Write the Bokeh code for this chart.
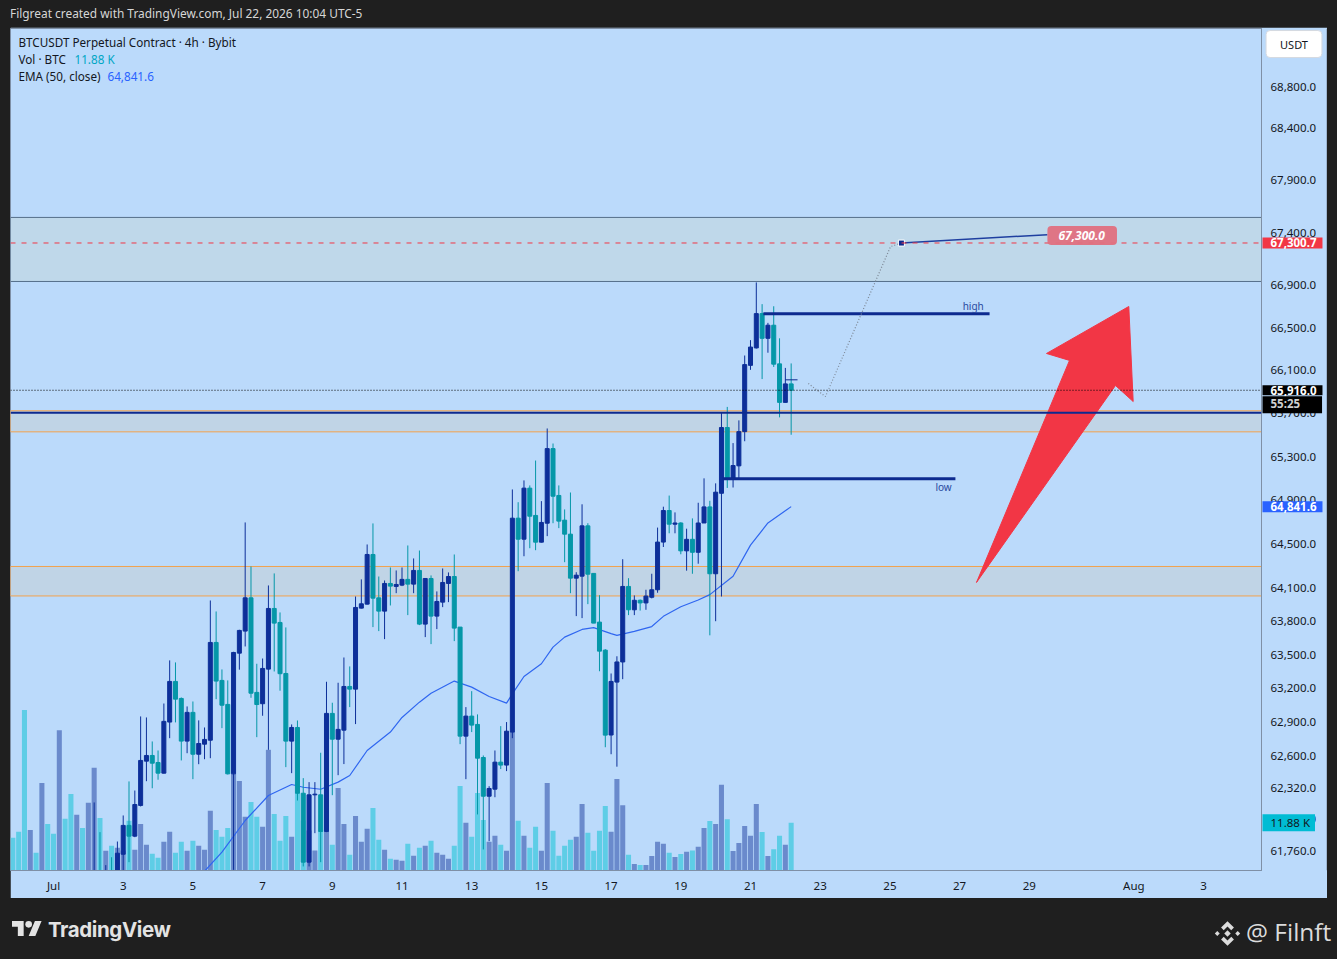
import numpy as np
from bokeh.plotting import figure
from bokeh.models import (Range1d, LinearScale, FixedTicker, NumeralTickFormatter,
                          BoxAnnotation, Span, Label, Div, Spacer, ColumnDataSource)
from bokeh.layouts import column, row
from bokeh.core.properties import value
from bokeh.embed import file_html
from bokeh.resources import INLINE

# ------------------------------------------------------------------ data
symbol_title = "BTCUSDT Perpetual Contract · 4h · Bybit"
# first 4h candle opens Jun 29 20:00 (UTC-5); x axis unit = days after Jul 1 00:00
first_bar_day = -28 / 24
bar_hours = 4

bar_open = [61250, 61050, 60820, 60400, 60690, 60600, 61020, 60850, 60700, 61280, 61090, 60880, 61180, 61050,
            61400, 61520, 61380, 61540, 61450, 61736, 61988, 61894, 62163, 62553,
            62603, 62541, 62447, 62899, 63261, 63109, 62730, 62985, 62614, 62703,
            62738, 63610, 63270, 63056, 62441, 63514, 63712, 64012, 63163, 63062,
            63371, 63916, 63790, 63332, 62730, 62851, 62270, 61667, 62256, 62256,
            61935, 62976, 62747, 62827, 63216, 63192, 63919, 63955, 64405, 64012,
            63892, 64142, 64115, 64127, 64179, 64136, 64260, 63775, 64187, 63847,
            63973, 64142, 64205, 63748, 62774, 62952, 62878, 62585, 62244, 62306,
            62544, 62518, 62810, 64736, 64544, 65011, 64761, 64517, 64690, 65375,
            64944, 64718, 64590, 64190, 64208, 64666, 64233, 63793, 63541, 62784,
            63255, 63435, 64115, 63904, 63990, 63966, 64017, 64085, 64518, 64806,
            64681, 64692, 64438, 64543, 64425, 64692, 64839, 64230, 64964, 65570,
            65103, 65216, 65532, 66148, 66311, 66633, 66401, 66524, 66162, 65803,
            65975]
bar_high = [61420, 61180, 60900, 60780, 60760, 61150, 61100, 60930, 61400, 61380, 61150, 61250, 61260, 61480,
            62189, 61929, 61641, 61710, 61847, 62075, 62374, 62294, 62949, 62940,
            62727, 62647, 63064, 63449, 63431, 63118, 63038, 63082, 62914, 62851,
            63988, 63889, 63368, 63270, 63526, 63724, 64697, 64296, 63419, 63466,
            64124, 64233, 63880, 63745, 62878, 62913, 62403, 62368, 62368, 62627,
            63258, 63071, 63249, 63475, 63395, 64024, 64179, 64496, 64688, 64205,
            64169, 64287, 64260, 64287, 64487, 64369, 64441, 64187, 64215, 64070,
            64278, 64242, 64405, 63748, 63032, 63174, 62967, 62603, 62332, 62647,
            62863, 62899, 64999, 64882, 65082, 65036, 65265, 64892, 65561, 65422,
            65036, 64816, 64971, 64244, 64863, 64690, 64233, 64036, 63550, 63332,
            63486, 64362, 64190, 64034, 63997, 64085, 64230, 64650, 64841, 64943,
            64789, 64699, 64640, 64734, 64877, 65101, 64895, 65055, 65708, 65761,
            65426, 65636, 66240, 66384, 66927, 66722, 66546, 66702, 66401, 66124,
            66166]
bar_low = [60980, 60700, 60150, 60300, 60520, 60450, 60780, 60600, 60550, 61000, 60750, 60820, 60980, 60990,
           61300, 61250, 61300, 61350, 61420, 61588, 61667, 61885, 62154, 62376,
           62314, 62389, 62444, 62756, 62896, 62559, 62623, 62394, 62526, 62570,
           62579, 63103, 62845, 62435, 61600, 63366, 63574, 63115, 62765, 62955,
           62653, 63350, 63178, 62500, 62447, 62206, 61630, 61630, 61920, 61667,
           61929, 62253, 62429, 62527, 63032, 62881, 63916, 63952, 63748, 63712,
           63640, 63943, 64054, 64118, 63856, 64054, 63766, 63658, 63595, 63730,
           63928, 63973, 63622, 62703, 62394, 62810, 62084, 61778, 61850, 62235,
           62483, 62465, 62756, 64253, 64389, 64462, 64444, 64514, 64572, 64690,
           64645, 64335, 64054, 63847, 63829, 63955, 63784, 63352, 62676, 62614,
           62504, 63281, 63856, 63856, 63897, 63904, 64007, 64058, 64473, 64598,
           64598, 64407, 64258, 64230, 64321, 64692, 63674, 63801, 64024, 65013,
           65017, 65103, 65443, 66106, 66305, 66020, 66266, 66133, 65664, 65803,
           65503]
bar_close = [61050, 60820, 60400, 60690, 60600, 61020, 60850, 60700, 61280, 61090, 60880, 61180, 61050, 61400,
             61520, 61380, 61540, 61450, 61745, 61988, 61894, 62171, 62559, 62603,
             62535, 62447, 62905, 63261, 63103, 62730, 62985, 62614, 62709, 62745,
             63610, 63264, 63049, 62441, 63520, 63718, 64012, 63156, 63055, 63377,
             63916, 63784, 63330, 62730, 62851, 62270, 61667, 62256, 62262, 61935,
             62976, 62747, 62834, 63216, 63192, 63925, 63958, 64405, 64009, 63892,
             64142, 64118, 64133, 64179, 64136, 64260, 63775, 64187, 63847, 63979,
             64151, 64205, 63739, 62774, 62952, 62872, 62579, 62244, 62312, 62544,
             62518, 62818, 64736, 64544, 65011, 64754, 64517, 64697, 65375, 64937,
             64709, 64590, 64190, 64217, 64666, 64226, 63784, 63532, 62783, 63261,
             63435, 64115, 63904, 63990, 63966, 64028, 64085, 64518, 64806, 64681,
             64692, 64438, 64543, 64425, 64692, 64839, 64230, 64974, 65570, 65103,
             65219, 65532, 66155, 66319, 66633, 66401, 66524, 66159, 65803, 65975,
             65916]
volume_k = [8.14, 9.64, 40.0, 10.1, 4.41, 21.8, 11.6, 9.14, 35.0, 12.9, 19.1, 13.9, 10.6, 16.9,
            25.6, 13.1, 4.9, 6.15, 5.65, 5.0, 12.4, 5.15, 11.6, 6.4,
            4.16, 3.16, 7.15, 9.64, 4.41, 7.15, 4.9, 7.4, 6.15, 5.15,
            14.9, 10.1, 8.4, 10.6, 24.1, 22.3, 13.4, 17.1, 13.4, 10.9,
            30.1, 14.1, 7.4, 13.6, 8.4, 19.4, 12.5, 10.0, 5.0, 10.0,
            10.0, 6.4, 20.6, 11.6, 3.9, 13.6, 7.15, 10.4, 15.6, 7.64,
            5.15, 2.91, 2.66, 2.42, 6.65, 3.66, 5.65, 6.15, 7.4, 4.41,
            3.91, 2.91, 6.15, 21.1, 11.9, 8.4, 19.3, 12.6, 7.15, 8.64,
            6.4, 4.9, 34.6, 12.4, 8.64, 5.65, 10.9, 4.9, 21.8, 9.9,
            3.66, 6.15, 7.64, 8.4, 16.6, 9.4, 4.9, 9.9, 16.1, 9.64,
            22.8, 16.3, 3.91, 1.64, 1.37, 1.37, 3.64, 7.15, 6.67, 4.41,
            3.36, 4.11, 4.68, 4.96, 5.9, 10.6, 12.35, 11.6, 21.4, 12.8,
            4.86, 6.85, 11.1, 8.67, 16.6, 9.61, 3.64, 5.33, 8.67, 6.4,
            11.88]

# EMA(50, close) at these candle indices
ema_bar = [30, 33, 36, 40, 44, 48, 50, 53, 56, 58, 61, 65, 67, 70, 72, 76, 79, 82, 85, 86,
           88, 91, 93, 95, 98, 100, 103, 104, 107, 110, 112, 115, 118, 120, 124, 127, 130, 134]
ema_value = [61420, 61588, 61755, 62031, 62250, 62347, 62323, 62305, 62368, 62426, 62647, 62810,
             62940, 63076, 63156, 63264, 63210, 63127, 63067, 63150, 63305, 63419, 63568, 63658,
             63727, 63743, 63689, 63674, 63709, 63753, 63845, 63931, 63993, 64041, 64207, 64490,
             64692, 64841.6]

price_ticks = [61760, 62040, 62320, 62600, 62900, 63200, 63500, 63800, 64100, 64500, 64900,
               65300, 65700, 66100, 66500, 66900, 67400, 67900, 68400, 68800]
date_ticks = [0, 2, 4, 6, 8, 10, 12, 14, 16, 18, 20, 22, 24, 26, 28, 31, 33]
date_labels = ["Jul", "3", "5", "7", "9", "11", "13", "15", "17", "19", "21", "23", "25", "27", "29", "Aug", "3"]

last_price = 65916.0
countdown = "55:25"
ema_last = 64841.6
vol_last = 11.88
alert_price = 67300.7

# drawings (x in days after Jul 1, y in USDT)
zone_upper = (66936, 67544)
zone_mid = (65530, 65725)
zone_low = (64029, 64296)
support_level = 65706
high_t, high_level = [20.37, 26.86], 66631
low_t, low_level = [19.2, 25.88], 65097
high_text_at = (26.39, 66709)
low_text_at = (25.54, 65017)
target_t, target_p = [24.33, 28.52], [67300.0, 67380.0]
target_note = "67,300.0"
path_t, path_p = [21.66, 22.15, 24.02, 24.33], [65979, 65857, 67267, 67300]
tick_t, tick_p = [21.0, 21.35], 66013
arrow_t = [26.485, 29.154, 28.494, 30.855, 30.981, 30.473]
arrow_p = [64151, 66194, 66259, 66700, 65811, 65960]

# ------------------------------------------------------------------ styling
BG = "#bbdafb"
DARK = "#1f1f1f"
UP = "#0d2f99"
DOWN = "#0597a8"
VOL_UP = "#6a8acc"
VOL_DOWN = "#5ecde6"
TXT = "#131722"
FONT = "Noto Sans"
AXIS = "#7f90a6"
NAVY = "#0d2a8f"

n = len(bar_close)
t = first_bar_day + np.arange(n) * bar_hours / 24
o = np.array(bar_open, float)
c = np.array(bar_close, float)
up = c >= o
src = ColumnDataSource(dict(
    t=t, h=bar_high, l=bar_low, top=np.maximum(o, c), bot=np.minimum(o, c),
    col=[UP if u else DOWN for u in up], vcol=[VOL_UP if u else VOL_DOWN for u in up],
    vol=volume_k))

p = figure(width=1317, height=871, x_range=Range1d(-1.234, 34.663),
           y_range=Range1d(61594.5, 69370), y_axis_type="log", y_axis_location="right",
           output_backend="svg", toolbar_location=None,
           min_border_left=0, min_border_right=66, min_border_top=1, min_border_bottom=28,
           background_fill_color=BG, border_fill_color=BG, outline_line_color=AXIS)
vol_range = Range1d(0, 210)
p.extra_y_ranges = {"vol": vol_range}
p.extra_y_scales = {"vol": LinearScale()}
p.xgrid.visible = False
p.ygrid.visible = False

p.yaxis.ticker = FixedTicker(ticks=price_ticks)
p.yaxis.formatter = NumeralTickFormatter(format="0,0.0")
p.xaxis.ticker = FixedTicker(ticks=date_ticks)
p.xaxis.major_label_overrides = dict(zip(date_ticks, date_labels))
for ax in (p.xaxis, p.yaxis):
    ax.major_tick_line_color = None
    ax.minor_tick_line_color = None
    ax.major_tick_out = 0
    ax.major_tick_in = 0
    ax.axis_line_color = AXIS
    ax.major_label_text_font = FONT
    ax.major_label_text_font_size = "11.5px"
    ax.major_label_text_color = TXT
p.yaxis.major_label_standoff = 9
p.xaxis.major_label_standoff = 7

# zones
p.add_layout(BoxAnnotation(bottom=zone_upper[0], top=zone_upper[1], fill_color="#bfd8ea", fill_alpha=1,
                           line_color="#56708a", line_alpha=1, line_width=1, level="underlay"))
for z in (zone_mid, zone_low):
    p.add_layout(BoxAnnotation(bottom=z[0], top=z[1], fill_color="#c0d4e6", fill_alpha=1,
                               line_color="#f2a24e", line_alpha=1, line_width=1, level="underlay"))

# volume, EMA, candles
p.vbar(x="t", top="vol", bottom=0, width=0.145, fill_color="vcol", line_color=None,
       y_range_name="vol", source=src)
ema_t = first_bar_day + np.array(ema_bar) * bar_hours / 24
p.line(ema_t, ema_value, line_color="#2f66f0", line_width=1.2)
p.segment(x0="t", y0="l", x1="t", y1="h", line_color="col", line_width=1, source=src)
p.vbar(x="t", top="top", bottom="bot", width=0.115, fill_color="col", line_color="col",
       line_width=1, source=src)

# price lines
p.add_layout(Span(location=alert_price, dimension="width", line_color="#f23645", line_dash="5 6", line_width=1))
p.add_layout(Span(location=last_price, dimension="width", line_color="#000000", line_dash="1 2", line_width=1.2))
p.add_layout(Span(location=support_level, dimension="width", line_color=NAVY, line_width=2))

# drawings
p.line(high_t, [high_level] * 2, line_color=NAVY, line_width=3)
p.line(low_t, [low_level] * 2, line_color=NAVY, line_width=3)
p.text([high_text_at[0]], [high_text_at[1]], text=["high"], text_font=value(FONT), text_font_size="10px",
       text_color="#2a4aa0", text_align="center", text_baseline="middle")
p.text([low_text_at[0]], [low_text_at[1]], text=["low"], text_font=value(FONT), text_font_size="10px",
       text_color="#2a4aa0", text_align="center", text_baseline="middle")
p.line(tick_t, [tick_p] * 2, line_color=NAVY, line_width=1)
p.line(path_t, path_p, line_color="#7d8896", line_width=1.2, line_dash="1 2")
p.line(target_t, target_p, line_color="#1f3fa0", line_width=1.5)
p.scatter([target_t[0]], [target_p[0]], marker="square", size=6, fill_color=NAVY, line_color="white", line_width=1)
p.patch(arrow_t, arrow_p, fill_color="#f23645", line_color="#f23645", line_width=1, line_join="round")
# padding order here: (left, right, top, bottom)
p.add_layout(Label(x=target_t[1], y=67372, text=target_note, text_font=FONT,
                   text_font_size="12px", text_font_style="bold italic", text_color="white",
                   text_baseline="middle", background_fill_color="#e0707f", background_fill_alpha=0.95,
                   padding=(11, 12, 5, 5), border_radius=4))

# legend (top-left)
def legend(x, y, text, color=TXT):
    p.add_layout(Label(x=x, y=y, x_units="screen", text=text, text_font=FONT, text_font_size="11.7px",
                       text_color=color, text_baseline="middle"))

legend(8, 69238, symbol_title)
legend(8, 69072, "Vol · BTC")
legend(64, 69072, "11.88 K", "#00a6c4")
legend(8, 68906, "EMA (50, close)")
legend(97, 68906, "64,841.6", "#2962ff")

# ---- transparent overlay strip over the price scale (for the coloured price tags)
s = figure(width=66, height=871, x_range=Range1d(0, 66), y_range=p.y_range, y_axis_type="log",
           x_axis_location=None, y_axis_location=None, output_backend="svg", toolbar_location=None,
           min_border_left=0, min_border_right=0, min_border_top=1, min_border_bottom=28,
           background_fill_alpha=0, border_fill_alpha=0, outline_line_color=None,
           margin=(0, 0, 0, -66))
s.extra_y_ranges = {"vol": vol_range}
s.extra_y_scales = {"vol": LinearScale()}
s.xgrid.visible = False
s.ygrid.visible = False
s.add_layout(Span(location=65.5, dimension="height", line_color=AXIS, line_width=1))

def tag(y, text, bg, color="white", bold=True, pad=(8, 6, 1, 1), **kw):
    s.add_layout(Label(x=1, y=y, text=text, text_font=FONT, text_font_size="11.5px",
                       text_font_style="bold" if bold else "normal", text_color=color,
                       text_baseline="middle", background_fill_color=bg, padding=pad, **kw))

tag(alert_price, "67,300.7", "#f23645")
tag(last_price, "65,916.0", "#000000", pad=(8, 6, 1, 0))
tag(65780, countdown, "#000000", color="#cfcfcf", pad=(8, 22, 0, 2))
tag(ema_last, "64,841.6", "#2962ff")
tag(vol_last, "11.88 K", "#00bcd4", color=TXT, bold=False, pad=(8, 5, 1, 1), y_range_name="vol")
s.add_layout(Label(x=32.5, y=69218, text="USDT", text_font=FONT, text_font_size="11px",
                   text_color=TXT, text_align="center", text_baseline="middle",
                   background_fill_color="white", border_line_color="#d5d9e0", padding=(14, 14, 6, 6),
                   border_radius=4))

# ------------------------------------------------------------------ page
header = Div(text=('<div style="padding-left:10px;line-height:27px;font-family:\'Noto Sans\';'
                   'font-size:11.9px;color:#d6d6d6;white-space:nowrap;">'
                   'Filgreat created with TradingView.com, Jul 22, 2026 10:04 UTC-5</div>'),
             width=1337, height=27, margin=0, styles={"background-color": DARK})

tv_logo = ('<svg style="position:absolute;left:12px;top:23px" width="30" height="15" viewBox="0 4 36 18">'
           '<path fill="#e3e3e3" d="M14 22H7V11H0V4h14v18zM28 22h-8l7.5-18h8L28 22z"/>'
           '<circle fill="#e3e3e3" cx="20" cy="8" r="4"/></svg>')
bn_logo = ('<svg style="position:absolute;left:1213px;top:21px" width="29" height="29" viewBox="0 0 27 27">'
           '<g fill="#dcdcdc"><polygon points="13.5,2 19.5,8 17,10.5 13.5,7 10,10.5 7.5,8"/>'
           '<polygon points="13.5,25 19.5,19 17,16.5 13.5,20 10,16.5 7.5,19"/>'
           '<polygon points="13.5,10.5 16.5,13.5 13.5,16.5 10.5,13.5"/>'
           '<polygon points="4,11.2 6.3,13.5 4,15.8 1.7,13.5"/>'
           '<polygon points="23,11.2 25.3,13.5 23,15.8 20.7,13.5"/></g></svg>')
footer = Div(text=('<div style="position:relative;width:1337px;height:61px;">' + tv_logo +
                   '<span style="position:absolute;left:48px;top:17px;font-family:Inter;font-weight:700;'
                   'font-size:20.5px;color:#e3e3e3;letter-spacing:-0.4px;white-space:nowrap;">TradingView</span>'
                   + bn_logo +
                   '<span style="position:absolute;left:1246px;top:16px;font-family:\'Open Sans\';'
                   'font-size:24.5px;color:#dcdcdc;white-space:nowrap;">@ Filnft</span></div>'),
             width=1337, height=61, margin=0, styles={"background-color": DARK})

mid = row(Spacer(width=10, height=871, margin=0, styles={"background-color": DARK}), p, s,
          Spacer(width=10, height=871, margin=0, styles={"background-color": DARK}), margin=0)
page = column(header, mid, footer, margin=0, styles={"background-color": DARK})

html = file_html(page, INLINE, title="BTCUSDT 4h")
html = html.replace("</head>", "<style>html,body{margin:0;padding:0;background:#1f1f1f;overflow:hidden;}</style></head>", 1)
open("out.html", "w").write(html)
